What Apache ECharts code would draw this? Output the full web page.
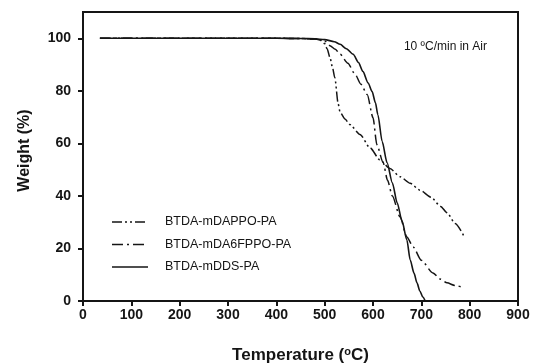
<!DOCTYPE html>
<html>
<head>
<meta charset="utf-8">
<script src="https://cdn.jsdelivr.net/npm/echarts@6/dist/echarts.min.js"></script>
<style>html,body{margin:0;padding:0;background:#fff;}#c{width:538px;height:364px;}</style>
</head>
<body>
<div id="c"></div>
<script>
var xTicks = [0, 100, 200, 300, 400, 500, 600, 700, 800, 900];
var yTicks = [0, 20, 40, 60, 80, 100];
var seriesNames = ['BTDA-mDAPPO-PA', 'BTDA-mDA6FPPO-PA', 'BTDA-mDDS-PA'];

var tempDAPPO = [35, 100, 200, 300, 400, 450, 480, 490, 500, 505, 511, 516, 521, 528, 532, 542, 552, 573, 594, 614, 635, 656, 677, 697, 720, 740, 753, 770, 790];
var wDAPPO    = [100, 100, 100, 100, 100, 99.9, 99.7, 99.4, 98, 96, 92.7, 89, 85, 75, 71.8, 69.3, 67.2, 63.4, 58.3, 53.8, 50.4, 47.3, 44.8, 42.2, 39.5, 36, 33.6, 29.5, 24];

var temp6FPPO = [35, 100, 200, 300, 400, 450, 480, 500, 511, 522, 532, 548, 563, 575, 588, 600, 608, 621, 630, 640, 656, 670, 683, 700, 724, 740, 753, 770, 784];
var w6FPPO    = [100, 100, 100, 100, 100, 99.9, 99.7, 99, 97.2, 95.8, 93.9, 90.5, 86.3, 82.5, 78.6, 69.8, 59.5, 52.7, 46, 40, 32, 24.4, 20.6, 15.5, 10.7, 8.3, 6.9, 5.9, 5.3];

var tempDDS = [35, 100, 200, 300, 400, 450, 480, 500, 520, 532, 545, 559, 570, 579, 590, 598, 605, 610, 619, 629, 640, 650, 660, 670, 677, 685, 691, 697, 703, 708];
var wDDS    = [100, 100, 100, 100, 100, 99.9, 99.8, 99.5, 98.7, 97.7, 96, 93.9, 90.8, 87.4, 83, 79.8, 75.5, 71, 60.7, 52.7, 45, 37.4, 30.5, 23.3, 15.6, 10.5, 6.9, 3.8, 1.5, 0];

function pairs(xs, ys) { return xs.map(function (x, i) { return [x, ys[i]]; }); }

var ink = '#151515';
var font = '"Liberation Sans", Arial, sans-serif';
var dashes = [[10, 3, 2, 3, 2, 3], [11, 4, 2, 4], null];
var widths = [1.5, 1.5, 1.6];

var legendGraphics = [];
seriesNames.forEach(function (name, i) {
  var y = 222 + i * 22.5;
  legendGraphics.push({
    type: 'line', silent: true,
    shape: { x1: 112, y1: y, x2: 148, y2: y },
    style: { stroke: ink, lineWidth: 1.6, lineDash: dashes[i] || null }
  });
  legendGraphics.push({
    type: 'text', silent: true, x: 165, y: y,
    style: { text: name, fill: ink, font: '12.5px ' + font, textVerticalAlign: 'middle', verticalAlign: 'middle' }
  });
});

var chart = echarts.init(document.getElementById('c'), null, { renderer: 'canvas' });
chart.setOption({
  animation: false,
  backgroundColor: '#fff',
  grid: { left: 83, right: 20, top: 12, bottom: 63, containLabel: false, outerBoundsMode: 'none',
    show: true, borderColor: ink, borderWidth: 2, backgroundColor: 'transparent' },
  title: {
    text: '10 \u00baC/min in Air',
    right: 46, top: 36,
    textStyle: { fontFamily: font, fontSize: 12, fontWeight: 'normal', color: ink }
  },
  graphic: legendGraphics,
  xAxis: {
    type: 'value', min: 0, max: 900, interval: 100,
    name: 'Temperature ({s|o}C)', nameLocation: 'middle', nameGap: 45,
    nameTextStyle: { fontFamily: font, fontSize: 17, fontWeight: 'bold', color: ink,
      rich: { s: { fontFamily: font, fontSize: 11, fontWeight: 'bold', color: ink, verticalAlign: 'top', padding: [0, 0, 8, 0] } } },
    axisLine: { show: true, onZero: false, lineStyle: { color: ink, width: 2 } },
    axisTick: { show: true, inside: false, length: 5, lineStyle: { color: ink, width: 2 } },
    axisLabel: { show: true, margin: 7, fontFamily: font, fontSize: 14, fontWeight: 'bold', color: ink,
      customValues: xTicks },
    splitLine: { show: false }
  },
  yAxis: {
    type: 'value', min: 0, max: 110, interval: 20,
    name: 'Weight (%)', nameLocation: 'middle', nameGap: 50, nameRotate: 90,
    nameTextStyle: { fontFamily: font, fontSize: 16, fontWeight: 'bold', color: ink, padding: [0, 0, 0, 12] },
    axisLine: { show: true, onZero: false, lineStyle: { color: ink, width: 2 } },
    axisTick: { show: true, inside: false, length: 5, lineStyle: { color: ink, width: 2 }, customValues: yTicks },
    axisLabel: { show: true, margin: 12, fontFamily: font, fontSize: 14, fontWeight: 'bold', color: ink,
      customValues: yTicks },
    splitLine: { show: false }
  },
  series: [
    { name: seriesNames[0], type: 'line', data: pairs(tempDAPPO, wDAPPO), showSymbol: false, symbol: 'none', smooth: 0.25, smoothMonotone: 'x',
      lineStyle: { color: ink, width: widths[0], type: dashes[0] } },
    { name: seriesNames[1], type: 'line', data: pairs(temp6FPPO, w6FPPO), showSymbol: false, symbol: 'none', smooth: 0.25, smoothMonotone: 'x',
      lineStyle: { color: ink, width: widths[1], type: dashes[1] } },
    { name: seriesNames[2], type: 'line', data: pairs(tempDDS, wDDS), showSymbol: false, symbol: 'none', smooth: 0.25, smoothMonotone: 'x',
      lineStyle: { color: ink, width: widths[2], type: 'solid' } }
  ]
});
</script>
</body>
</html>
